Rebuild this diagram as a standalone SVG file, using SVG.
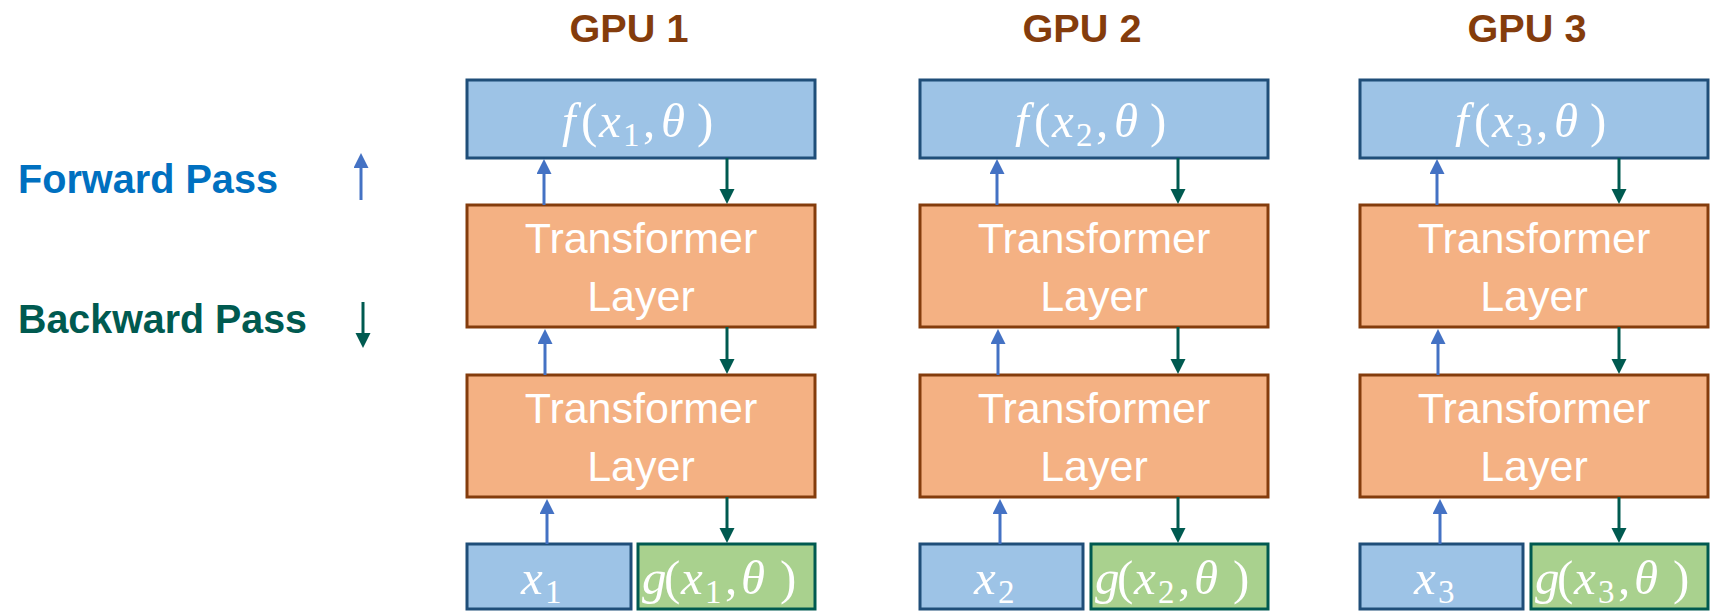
<svg xmlns="http://www.w3.org/2000/svg" width="1717" height="613" viewBox="0 0 1717 613">
<style>
.bg{fill:#FFFFFF}
.top{fill:#9DC3E6;stroke:#1F4E79;stroke-width:3}
.tl{fill:#F4B183;stroke:#843C0C;stroke-width:3}
.in{fill:#9DC3E6;stroke:#1F4E79;stroke-width:3}
.gr{fill:#A9D18E;stroke:#005A50;stroke-width:3}
.title{font-family:"Liberation Sans",Arial,sans-serif;font-weight:bold;font-size:38px;fill:#843C0C;text-anchor:middle}
.lbl{font-family:"Liberation Sans",Arial,sans-serif;font-weight:bold;font-size:40px}
.tt{font-family:"Liberation Sans",Arial,sans-serif;font-size:43px;fill:#FFFFFF;text-anchor:middle}
.math{font-family:"Liberation Serif","Times New Roman",serif;font-size:49px;fill:#FFFFFF}
.it{font-style:italic}
.sub{font-size:33px}
.up{stroke:#4472C4;stroke-width:3;fill:none;marker-end:url(#ahUp)}
.dn{stroke:#005A50;stroke-width:3;fill:none;marker-end:url(#ahDn)}
</style>
<defs>
<marker id="ahUp" markerUnits="userSpaceOnUse" markerWidth="16" markerHeight="16" refX="1" refY="7.5" orient="auto">
<path d="M0,0 L15,7.5 L0,15 z" fill="#4472C4"/>
</marker>
<marker id="ahDn" markerUnits="userSpaceOnUse" markerWidth="16" markerHeight="16" refX="1" refY="7.5" orient="auto">
<path d="M0,0 L15,7.5 L0,15 z" fill="#005A50"/>
</marker>
</defs>
<rect class="bg" x="0" y="0" width="1717" height="613"/>

<g id="legend">
<text class="lbl" x="18" y="193" fill="#0070C0" textLength="260" lengthAdjust="spacingAndGlyphs">Forward Pass</text>
<text class="lbl" x="18" y="333" fill="#005A50" textLength="289" lengthAdjust="spacingAndGlyphs">Backward Pass</text>
<line class="up" x1="361" y1="200" x2="361" y2="167"/>
<line class="dn" x1="363" y1="302" x2="363" y2="334"/>
</g>

<g id="titles">
<text class="title" x="629" y="42" textLength="119" lengthAdjust="spacingAndGlyphs">GPU 1</text>
<text class="title" x="1082" y="42" textLength="119" lengthAdjust="spacingAndGlyphs">GPU 2</text>
<text class="title" x="1527" y="42" textLength="119" lengthAdjust="spacingAndGlyphs">GPU 3</text>
</g>

<!-- GPU 1 -->
<g id="gpu1-f">
<rect class="top" x="467" y="80" width="348" height="78"/>
<text class="math" y="137"><tspan class="it" x="562">f</tspan><tspan x="581">(</tspan><tspan class="it" x="599">x</tspan><tspan class="sub" x="623" y="146">1</tspan><tspan x="643" y="137">,</tspan><tspan class="it" x="661">θ</tspan><tspan x="697">)</tspan></text>
</g>
<g id="gpu1-t1">
<rect class="tl" x="467" y="205" width="348" height="122"/>
<text class="tt" x="641" y="253">Transformer</text>
<text class="tt" x="641" y="311">Layer</text>
</g>
<g id="gpu1-t2">
<rect class="tl" x="467" y="375" width="348" height="122"/>
<text class="tt" x="641" y="423">Transformer</text>
<text class="tt" x="641" y="481">Layer</text>
</g>
<g id="gpu1-x">
<rect class="in" x="467" y="544" width="164" height="65"/>
<text class="math" y="594"><tspan class="it" x="521">x</tspan><tspan class="sub" x="545" y="603">1</tspan></text>
</g>
<g id="gpu1-g">
<rect class="gr" x="638" y="544" width="177" height="65"/>
<text class="math" y="594"><tspan class="it" x="642">g</tspan><tspan x="664">(</tspan><tspan class="it" x="681">x</tspan><tspan class="sub" x="705" y="603">1</tspan><tspan x="725" y="594">,</tspan><tspan class="it" x="741">θ</tspan><tspan x="780">)</tspan></text>
</g>

<!-- GPU 2 -->
<g id="gpu2-f">
<rect class="top" x="920" y="80" width="348" height="78"/>
<text class="math" y="137"><tspan class="it" x="1015">f</tspan><tspan x="1034">(</tspan><tspan class="it" x="1052">x</tspan><tspan class="sub" x="1076" y="146">2</tspan><tspan x="1096" y="137">,</tspan><tspan class="it" x="1114">θ</tspan><tspan x="1150">)</tspan></text>
</g>
<g id="gpu2-t1">
<rect class="tl" x="920" y="205" width="348" height="122"/>
<text class="tt" x="1094" y="253">Transformer</text>
<text class="tt" x="1094" y="311">Layer</text>
</g>
<g id="gpu2-t2">
<rect class="tl" x="920" y="375" width="348" height="122"/>
<text class="tt" x="1094" y="423">Transformer</text>
<text class="tt" x="1094" y="481">Layer</text>
</g>
<g id="gpu2-x">
<rect class="in" x="920" y="544" width="163" height="65"/>
<text class="math" y="594"><tspan class="it" x="974">x</tspan><tspan class="sub" x="998" y="603">2</tspan></text>
</g>
<g id="gpu2-g">
<rect class="gr" x="1091" y="544" width="177" height="65"/>
<text class="math" y="594"><tspan class="it" x="1095">g</tspan><tspan x="1117">(</tspan><tspan class="it" x="1134">x</tspan><tspan class="sub" x="1158" y="603">2</tspan><tspan x="1178" y="594">,</tspan><tspan class="it" x="1194">θ</tspan><tspan x="1233">)</tspan></text>
</g>

<!-- GPU 3 -->
<g id="gpu3-f">
<rect class="top" x="1360" y="80" width="348" height="78"/>
<text class="math" y="137"><tspan class="it" x="1455">f</tspan><tspan x="1474">(</tspan><tspan class="it" x="1492">x</tspan><tspan class="sub" x="1516" y="146">3</tspan><tspan x="1536" y="137">,</tspan><tspan class="it" x="1554">θ</tspan><tspan x="1590">)</tspan></text>
</g>
<g id="gpu3-t1">
<rect class="tl" x="1360" y="205" width="348" height="122"/>
<text class="tt" x="1534" y="253">Transformer</text>
<text class="tt" x="1534" y="311">Layer</text>
</g>
<g id="gpu3-t2">
<rect class="tl" x="1360" y="375" width="348" height="122"/>
<text class="tt" x="1534" y="423">Transformer</text>
<text class="tt" x="1534" y="481">Layer</text>
</g>
<g id="gpu3-x">
<rect class="in" x="1360" y="544" width="163" height="65"/>
<text class="math" y="594"><tspan class="it" x="1414">x</tspan><tspan class="sub" x="1438" y="603">3</tspan></text>
</g>
<g id="gpu3-g">
<rect class="gr" x="1531" y="544" width="177" height="65"/>
<text class="math" y="594"><tspan class="it" x="1535">g</tspan><tspan x="1557">(</tspan><tspan class="it" x="1574">x</tspan><tspan class="sub" x="1598" y="603">3</tspan><tspan x="1618" y="594">,</tspan><tspan class="it" x="1634">θ</tspan><tspan x="1673">)</tspan></text>
</g>

<g id="connectors">
<line class="up" x1="544" y1="205" x2="544" y2="173"/>
<line class="up" x1="545" y1="375" x2="545" y2="343"/>
<line class="up" x1="547" y1="544" x2="547" y2="513"/>
<line class="dn" x1="727" y1="158" x2="727" y2="190"/>
<line class="dn" x1="727" y1="327" x2="727" y2="360"/>
<line class="dn" x1="727" y1="497" x2="727" y2="529"/>
<line class="up" x1="997" y1="205" x2="997" y2="173"/>
<line class="up" x1="998" y1="375" x2="998" y2="343"/>
<line class="up" x1="1000" y1="544" x2="1000" y2="513"/>
<line class="dn" x1="1178" y1="158" x2="1178" y2="190"/>
<line class="dn" x1="1178" y1="327" x2="1178" y2="360"/>
<line class="dn" x1="1178" y1="497" x2="1178" y2="529"/>
<line class="up" x1="1437" y1="205" x2="1437" y2="173"/>
<line class="up" x1="1438" y1="375" x2="1438" y2="343"/>
<line class="up" x1="1440" y1="544" x2="1440" y2="513"/>
<line class="dn" x1="1619" y1="158" x2="1619" y2="190"/>
<line class="dn" x1="1619" y1="327" x2="1619" y2="360"/>
<line class="dn" x1="1619" y1="497" x2="1619" y2="529"/>
</g>
</svg>
